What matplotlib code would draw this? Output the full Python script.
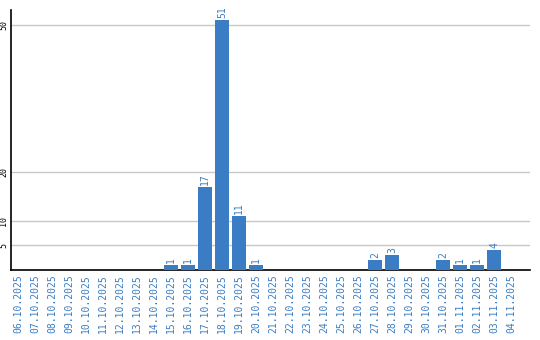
import matplotlib
matplotlib.use("Agg")
import matplotlib.pyplot as plt
import numpy as np

# dias de 06.10.2025 a 04.11.2025
datas = ['06.10.2025', '07.10.2025', '08.10.2025', '09.10.2025', '10.10.2025',
         '11.10.2025', '12.10.2025', '13.10.2025', '14.10.2025', '15.10.2025',
         '16.10.2025', '17.10.2025', '18.10.2025', '19.10.2025', '20.10.2025',
         '21.10.2025', '22.10.2025', '23.10.2025', '24.10.2025', '25.10.2025',
         '26.10.2025', '27.10.2025', '28.10.2025', '29.10.2025', '30.10.2025',
         '31.10.2025', '01.11.2025', '02.11.2025', '03.11.2025', '04.11.2025']
valores = [0, 0, 0, 0, 0, 0, 0, 0, 0, 1,
           1, 17, 51, 11, 1, 0, 0, 0, 0, 0,
           0, 2, 3, 0, 0, 2, 1, 1, 4, 0]
ticks_y = [5, 10, 20, 50]

azul = '#3a7dc4'

fig = plt.figure(figsize=(5.4, 3.4), dpi=100)
ax = fig.add_axes([11 / 540, 70 / 340, 519 / 540, 260 / 340])

x = np.arange(len(datas))
barras = ax.bar(x, valores, width=0.82, color=azul, zorder=3)

# rotulos de valor acima das barras (so onde ha valor)
for xi, v in zip(x, valores):
    if v > 0:
        ax.text(xi, v + 0.4, str(v), rotation=90, ha='center', va='bottom',
                color=azul, fontsize=7, family='DejaVu Sans Mono')

ax.set_xlim(-0.41, 30.1)
ax.set_ylim(0, 53)
ax.set_xticks(x)
ax.set_xticklabels(datas, rotation=90, color=azul, fontsize=7,
                   family='DejaVu Sans Mono', va='top')
ax.set_yticks(ticks_y)
ax.set_yticklabels([str(t) for t in ticks_y], rotation=90, fontsize=6,
                   family='DejaVu Sans Mono', va='center')
ax.tick_params(axis='both', length=0, pad=3)
ax.tick_params(axis='y', pad=2)

ax.yaxis.grid(True, color='#c8c8c8', linewidth=1, zorder=0)
for lado in ['top', 'right']:
    ax.spines[lado].set_visible(False)
ax.spines['left'].set_linewidth(1.2)
ax.spines['bottom'].set_linewidth(1.2)

plt.savefig('out.png', dpi=100)
